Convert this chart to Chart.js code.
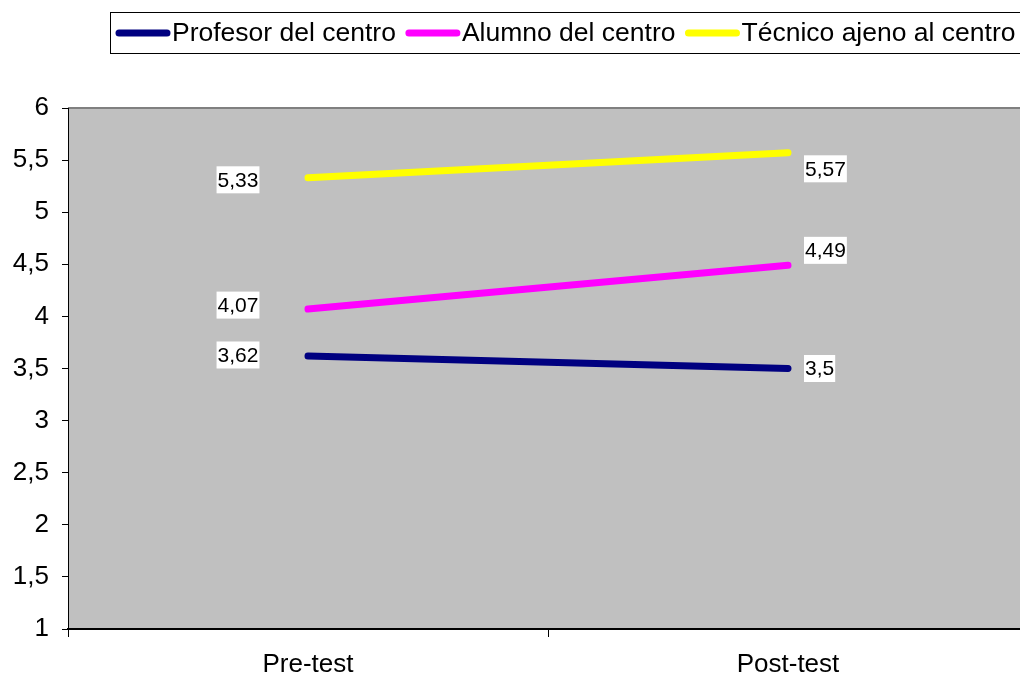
<!DOCTYPE html>
<html>
<head>
<meta charset="utf-8">
<script src="https://cdn.jsdelivr.net/npm/chart.js@4.4.1/dist/chart.umd.min.js"></script>
<style>
    body { margin: 0; overflow: hidden; background: #fff; }
    canvas { display: block; }
</style>
</head>
<body>
<canvas id="grafico" width="1040" height="676"></canvas>
<script>
const momentos = ["Pre-test", "Post-test"];
const profesor = [3.62, 3.5];
const alumno = [4.07, 4.49];
const tecnico = [5.33, 5.57];

const nombres = ["Profesor del centro", "Alumno del centro", "Técnico ajeno al centro"];
const colores = ["#000080", "#FF00FF", "#FFFF00"];

// desplazamiento vertical de cada etiqueta (como las coloca Excel)
const desplEtiquetas = [[-1, 0], [-4, -15], [2, 16]];

const FUENTE = "'Liberation Sans', Arial, sans-serif";
const coma = v => String(v).replace(".", ",");

const fondo = {
    id: "fondo",
    beforeDraw(chart) {
        const a = chart.chartArea, ctx = chart.ctx;
        ctx.save();
        ctx.fillStyle = "#C0C0C0";
        ctx.fillRect(a.left, a.top, a.right - a.left, a.bottom - a.top);
        ctx.strokeStyle = "#808080";
        ctx.lineWidth = 2;
        ctx.beginPath();
        ctx.moveTo(a.left, a.top);
        ctx.lineTo(a.right, a.top);
        ctx.lineTo(a.right, a.bottom);
        ctx.stroke();
        ctx.restore();
    }
};

const etiquetas = {
    id: "etiquetas",
    afterDatasetsDraw(chart) {
        const ctx = chart.ctx;
        ctx.save();
        ctx.font = "21px " + FUENTE;
        ctx.textBaseline = "middle";
        ctx.textAlign = "left";
        chart.data.datasets.forEach((ds, i) => {
            chart.getDatasetMeta(i).data.forEach((p, j) => {
                const txt = coma(ds.data[j]);
                const w = ctx.measureText(txt).width + 2;
                const x = j === 0 ? p.x - 70 - w / 2 : p.x + 16;
                const y = p.y + desplEtiquetas[i][j];
                ctx.fillStyle = "#fff";
                ctx.fillRect(x, y - 13.5, w, 27);
                ctx.fillStyle = "#000";
                ctx.fillText(txt, x + 1, y + 1);
            });
        });
        ctx.restore();
    }
};

const leyenda = {
    id: "leyenda",
    afterDraw(chart) {
        const ctx = chart.ctx;
        ctx.save();
        ctx.strokeStyle = "#000";
        ctx.lineWidth = 1;
        ctx.strokeRect(110.5, 12.5, 940, 41);
        ctx.font = "26.5px " + FUENTE;
        ctx.textBaseline = "middle";
        let x = 116;
        chart.data.datasets.forEach(ds => {
            ctx.strokeStyle = ds.borderColor;
            ctx.lineWidth = 7;
            ctx.lineCap = "round";
            ctx.beginPath();
            ctx.moveTo(x + 3, 33);
            ctx.lineTo(x + 51, 33);
            ctx.stroke();
            ctx.fillStyle = "#000";
            ctx.fillText(ds.label, x + 56, 34);
            x += 56 + ctx.measureText(ds.label).width + 10;
        });
        ctx.restore();
    }
};

const series = [profesor, alumno, tecnico];

new Chart(document.getElementById("grafico"), {
    type: "line",
    data: {
        labels: momentos,
        datasets: series.map((d, i) => ({
            label: nombres[i],
            data: d,
            borderColor: colores[i],
            backgroundColor: colores[i],
            borderWidth: 7,
            borderCapStyle: "round",
            pointRadius: 0,
            tension: 0,
            fill: false
        }))
    },
    options: {
        responsive: false,
        animation: false,
        layout: { padding: { top: 108, right: 12, left: 0, bottom: 0 } },
        plugins: {
            legend: { display: false },
            tooltip: { enabled: false }
        },
        scales: {
            x: {
                offset: true,
                grid: { offset: true, drawOnChartArea: false, color: "#000", tickLength: 8 },
                border: { color: "#000", width: 2 },
                ticks: { color: "#000", font: { family: FUENTE, size: 26 }, padding: 12, maxRotation: 0 },
                afterFit: s => { s.height = 47; }
            },
            y: {
                min: 1,
                max: 6,
                grid: { drawOnChartArea: false, color: "#000", tickLength: 6 },
                border: { color: "#000", width: 1 },
                ticks: {
                    stepSize: 0.5,
                    color: "#000",
                    font: { family: FUENTE, size: 26 },
                    padding: 13,
                    callback: v => coma(v)
                },
                afterFit: s => { s.width = 68; }
            }
        }
    },
    plugins: [fondo, etiquetas, leyenda]
});
</script>
</body>
</html>
